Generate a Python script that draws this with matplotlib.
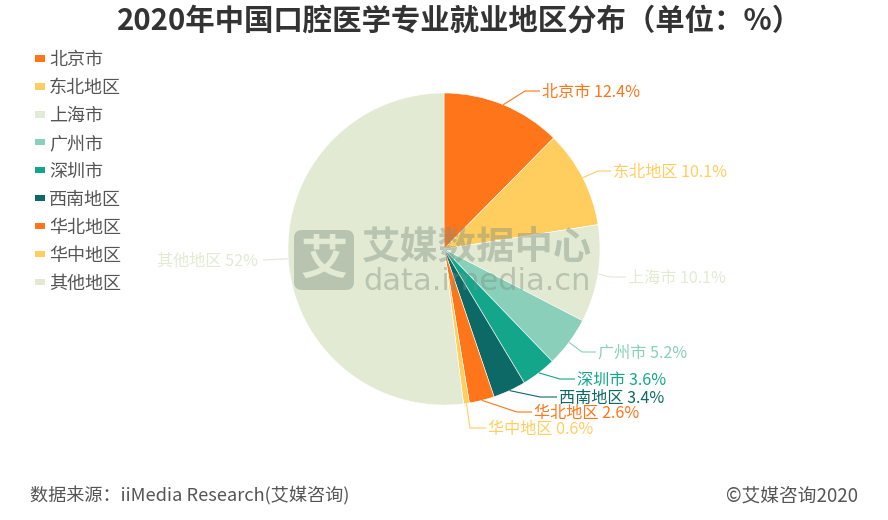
import matplotlib
matplotlib.use("Agg")
import matplotlib.pyplot as plt
import numpy as np
from matplotlib.patches import FancyBboxPatch, Patch

plt.rcParams['font.family'] = ['Noto Sans CJK SC', 'DejaVu Sans']

regions = ['北京市', '东北地区', '上海市', '广州市', '深圳市', '西南地区', '华北地区', '华中地区', '其他地区']
shares = [12.4, 10.1, 10.1, 5.2, 3.6, 3.4, 2.6, 0.6, 52]
share_labels = ['12.4%', '10.1%', '10.1%', '5.2%', '3.6%', '3.4%', '2.6%', '0.6%', '52%']
palette = ['#FF7519', '#FFCE5F', '#E2EAD3', '#8ACFB9', '#13A68B', '#0D6966', '#FF7519', '#FFCE5F', '#E2EAD3']

# layout (pixels, y measured from top)
W, H = 888, 520
CX, CY, R = 444, 249, 156
elbows = [(525, 91), (598, 171), (610, 277), (582, 352), (560, 379), (540, 397), (517, 412), (470, 428), (263, 260)]
ends = [(540, 91), (611, 171), (626, 277), (596, 352), (575, 379), (557, 397), (532, 412), (486, 428), (263, 260)]

fig = plt.figure(figsize=(W / 100, H / 100), dpi=100)
ax = fig.add_axes([0, 0, 1, 1])

# a pie on an inverted y axis is mirrored, so angles run clockwise on screen with counterclock=True
wedges, _ = ax.pie(shares, colors=palette, center=(CX, CY), radius=R, startangle=-90,
                   counterclock=True, wedgeprops=dict(linewidth=0.4, edgecolor='white'),
                   frame=True)
ax.set_xlim(0, W)
ax.set_ylim(H, 0)
ax.set_aspect('auto')
ax.axis('off')

cum = 0.0
total = sum(shares)
for name, val, lab, col, el, en in zip(regions, shares, share_labels, palette, elbows, ends):
    mid = (cum + val / 2) / total * 2 * np.pi
    cum += val
    sx = CX + R * np.sin(mid)
    sy = CY - R * np.cos(mid)
    ax.plot([sx, el[0], en[0]], [sy, el[1], en[1]], color=col, lw=0.8, solid_capstyle='butt')
    left_side = en[0] < CX
    ax.text(en[0] + (-5 if left_side else 2), en[1] + 1.5, f'{name} {lab}', color=col, fontsize=11.6,
            va='center', ha='right' if left_side else 'left')

# watermark
wm = '#7F8F80'
ax.add_patch(FancyBboxPatch((300, 236), 48, 48, boxstyle='round,pad=6,rounding_size=8', linewidth=0,
                            facecolor=wm, alpha=0.42, zorder=5))
ax.text(324, 260, '艾', color='#E2EAD3', fontsize=34, fontweight='bold', ha='center', va='center', zorder=6)
ax.text(362, 248, '艾媒数据中心', color=wm, alpha=0.42, fontsize=27.6, fontweight='bold', ha='left', va='center', zorder=6)
ax.text(363, 282, 'data.imedia.cn', color=wm, alpha=0.42, fontsize=22, family='DejaVu Sans', ha='left', va='center', zorder=6)

# title and footer
ax.text(117, 21, '2020年中国口腔医学专业就业地区分布（单位：%）', color='#333333', fontsize=21.2,
        fontweight='bold', ha='left', va='center')
ax.text(30, 496, '数据来源：iiMedia Research(艾媒咨询)', color='#555555', fontsize=13.1, ha='left', va='center')
ax.text(858, 496, '©艾媒咨询2020', color='#555555', fontsize=13.5, ha='right', va='center')

handles = [Patch(facecolor=c, edgecolor='none', label=r) for c, r in zip(palette, regions)]
leg = ax.legend(handles=handles, loc='upper left', bbox_to_anchor=(35 / W, 1 - 51 / H),
                bbox_transform=fig.transFigure, frameon=False, fontsize=13, labelcolor='#555555',
                handlelength=0.56, handleheight=0.17, handletextpad=0.22, labelspacing=0.55,
                borderpad=0, borderaxespad=0)

fig.savefig('out.png', dpi=100)
